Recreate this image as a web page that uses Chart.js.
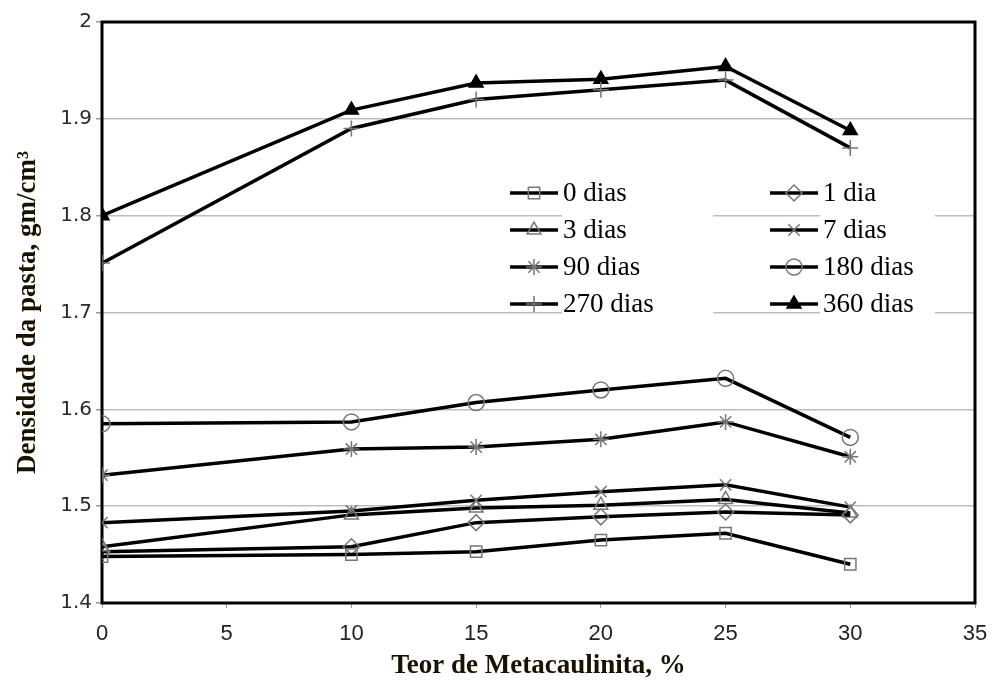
<!DOCTYPE html>
<html>
<head>
<meta charset="utf-8">
<title>Densidade da pasta</title>
<script src="https://cdn.jsdelivr.net/npm/chart.js@4.4.1/dist/chart.umd.min.js"></script>
<style>
    body { margin: 0; background: #fff; }
    #wrap { width: 992px; height: 682px; }
</style>
</head>
<body>
<div id="wrap"><canvas id="graph1"></canvas></div>
<script>
// teor de metacaulinita (%)
const teor = [0, 10, 15, 20, 25, 30];

// densidade (g/cm3) por idade
const dias_0   = [1.448, 1.450, 1.453, 1.465, 1.472, 1.440];
const dias_1   = [1.453, 1.458, 1.483, 1.489, 1.494, 1.491];
const dias_3   = [1.458, 1.491, 1.498, 1.501, 1.507, 1.493];
const dias_7   = [1.483, 1.495, 1.506, 1.515, 1.522, 1.499];
const dias_90  = [1.532, 1.559, 1.561, 1.569, 1.587, 1.551];
const dias_180 = [1.585, 1.587, 1.607, 1.620, 1.632, 1.571];
const dias_270 = [1.751, 1.890, 1.920, 1.930, 1.940, 1.870];
const dias_360 = [1.800, 1.909, 1.937, 1.941, 1.954, 1.888];

const series_labels = ["0 dias", "1 dia", "3 dias", "7 dias", "90 dias", "180 dias", "270 dias", "360 dias"];
const y_ticks = [1.4, 1.5, 1.6, 1.7, 1.8, 1.9, 2];
const x_ticks = [0, 5, 10, 15, 20, 25, 30, 35];

window.addEventListener("load", function () {
    draw_chart();
});

function to_points(values) {
    let pts = [];
    for (let i = 0; i < teor.length; i++) {
        pts.push({ x: teor[i], y: values[i] });
    }
    return pts;
}

// moldura preta em volta da área do gráfico
const frame_plugin = {
    id: "frame",
    beforeDatasetsDraw(chart) {
        const a = chart.chartArea;
        const ctx = chart.ctx;
        ctx.save();
        ctx.strokeStyle = "#000";
        ctx.lineWidth = 3;
        ctx.strokeRect(a.left, a.top, a.right - a.left, a.bottom - a.top);
        ctx.restore();
    }
};

// legenda em duas colunas dentro da área do gráfico
const legend_plugin = {
    id: "legend_grid",
    afterDatasetsDraw(chart) {
        const ctx = chart.ctx;
        const col_x = [510, 770];
        const row_y = 193;
        const row_h = 37;
        ctx.save();
        ctx.fillStyle = "#fff";
        ctx.fillRect(562, 175, 151, 147);
        ctx.fillRect(820, 175, 115, 147);

        chart.data.datasets.forEach(function (ds, i) {
            const x = col_x[i % 2];
            const y = row_y + Math.floor(i / 2) * row_h;

            ctx.strokeStyle = "#000";
            ctx.lineWidth = 3.5;
            ctx.beginPath();
            ctx.moveTo(x, y);
            ctx.lineTo(x + 48, y);
            ctx.stroke();

            ctx.strokeStyle = ds.pointBorderColor;
            ctx.fillStyle = ds.pointBackgroundColor;
            ctx.lineWidth = ds.pointBorderWidth;
            Chart.helpers.drawPoint(ctx, {
                pointStyle: ds.pointStyle,
                radius: ds.pointRadius,
                rotation: 0,
                borderWidth: ds.pointBorderWidth
            }, x + 24, y);

            ctx.fillStyle = "#000";
            ctx.font = "27px 'Liberation Serif'";
            ctx.textBaseline = "middle";
            ctx.textAlign = "left";
            ctx.fillText(ds.label, x + 53, y + 1);
        });
        ctx.restore();
    }
};

function make_dataset(label, values, style, fill) {
    return {
        label: label,
        data: to_points(values),
        borderColor: "#000",
        borderWidth: 3.5,
        pointStyle: style,
        pointRadius: 8,
        pointHoverRadius: 8,
        pointBorderColor: fill ? "#000" : "#777",
        pointBackgroundColor: fill ? "#000" : "rgba(0,0,0,0)",
        pointBorderWidth: 1.5,
        tension: 0,
        showLine: true
    };
}

function draw_chart() {
    const all_values = [dias_0, dias_1, dias_3, dias_7, dias_90, dias_180, dias_270, dias_360];
    const styles = ["rect", "rectRot", "triangle", "crossRot", "star", "circle", "cross", "triangle"];

    let datasets = [];
    for (let i = 0; i < all_values.length; i++) {
        datasets.push(make_dataset(series_labels[i], all_values[i], styles[i], i === 7));
    }

    const ctx = document.getElementById("graph1").getContext("2d");
    const myChart = new Chart(ctx, {
        type: "scatter",
        data: { datasets: datasets },
        plugins: [frame_plugin, legend_plugin],
        options: {
            responsive: true,
            maintainAspectRatio: false,
            animation: false,
            layout: { padding: { left: 12, right: 17, top: 22, bottom: 0 } },
            plugins: {
                legend: { display: false },
                tooltip: { enabled: false }
            },
            scales: {
                x: {
                    type: "linear",
                    min: 0,
                    max: 35,
                    afterBuildTicks: function (scale) {
                        scale.ticks = x_ticks.map(v => ({ value: v }));
                    },
                    afterFit: function (scale) {
                        scale.height = 79;
                        // o rótulo "35" pode ultrapassar a borda direita
                        scale.paddingRight = 0;
                        scale.paddingLeft = 0;
                    },
                    grid: {
                        drawOnChartArea: false,
                        drawTicks: true,
                        tickLength: 5,
                        tickColor: "#999"
                    },
                    border: { display: false },
                    ticks: {
                        color: "#222",
                        padding: 13,
                        maxRotation: 0,
                        font: { family: "'Liberation Sans'", size: 22 }
                    },
                    title: {
                        display: true,
                        text: "Teor de Metacaulinita, %",
                        color: "#1a1200",
                        padding: { top: 0, bottom: 0 },
                        font: { family: "'Liberation Serif'", size: 27, weight: "bold" }
                    }
                },
                y: {
                    min: 1.4,
                    max: 2,
                    afterBuildTicks: function (scale) {
                        scale.ticks = y_ticks.map(v => ({ value: v }));
                    },
                    afterFit: function (scale) { scale.width = 90; },
                    grid: {
                        color: "#bdbdbd",
                        lineWidth: 1.5,
                        drawTicks: true,
                        tickLength: 6,
                        tickColor: "#999"
                    },
                    border: { display: false },
                    ticks: {
                        color: "#2a2a2a",
                        padding: 4,
                        font: { family: "'DejaVu Sans'", size: 20 },
                        callback: function (v) { return String(Number(v.toFixed(1))); }
                    },
                    title: {
                        display: true,
                        text: "Densidade da pasta, gm/cm³",
                        color: "#1a1200",
                        padding: { top: 0, bottom: 4 },
                        font: { family: "'Liberation Serif'", size: 27, weight: "bold" }
                    }
                }
            }
        }
    });
}
</script>
</body>
</html>
